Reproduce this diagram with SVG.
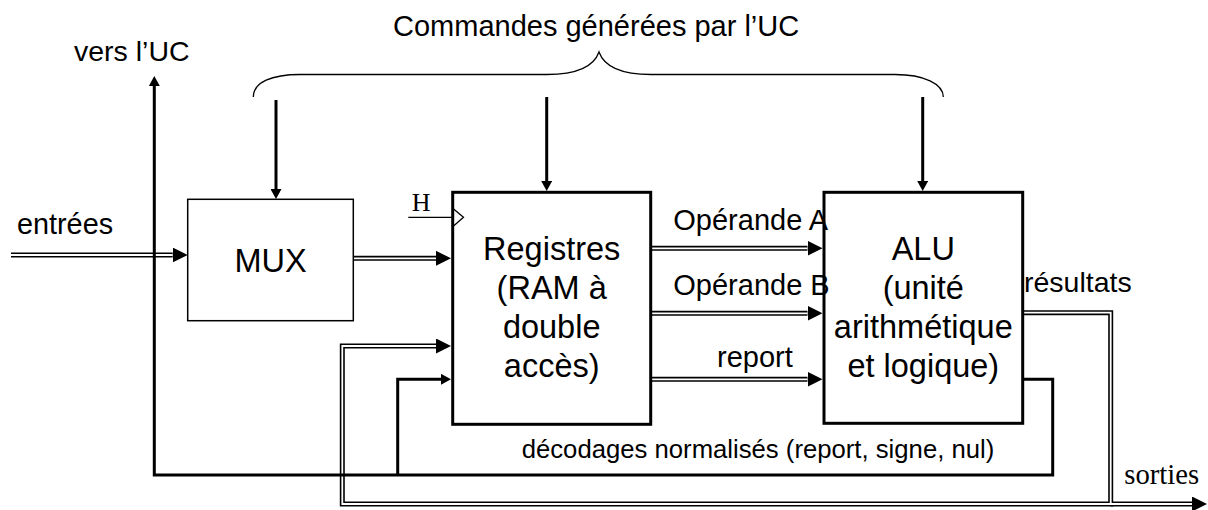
<svg xmlns="http://www.w3.org/2000/svg" width="1208" height="510" viewBox="0 0 1208 510">
<style>
.bg{fill:#fff}
.dblo{fill:none;stroke:#000;stroke-width:5;stroke-linejoin:miter}
.dbli{fill:none;stroke:#fff;stroke-width:1.8;stroke-linejoin:miter}
.thk{fill:none;stroke:#000;stroke-width:3;stroke-linejoin:miter}
.thin{fill:none;stroke:#000;stroke-width:1.3}
.box{fill:#fff;stroke:#000;stroke-width:3}
.mux{fill:#fff;stroke:#000;stroke-width:1.5}
.t{font-family:"Liberation Sans",Arial,sans-serif;fill:#000}
.s{font-family:"Liberation Serif","Times New Roman",serif;fill:#000}
.blk{font-family:"Liberation Sans",Arial,sans-serif;font-size:32.5px;text-anchor:middle;fill:#000}
</style>
<defs>
<marker id="ad" markerUnits="userSpaceOnUse" markerWidth="15" markerHeight="15" refX="0" refY="7.5" orient="auto"><path d="M0,0 L15,7.5 L0,15 z" fill="#000"/></marker>
<marker id="at" markerUnits="userSpaceOnUse" markerWidth="11" markerHeight="11" refX="0" refY="5.5" orient="auto"><path d="M0,0 L10,5.5 L0,11 z" fill="#000"/></marker>
</defs>
<rect class="bg" x="0" y="0" width="1208" height="510"/>
<g id="connectors">
<g id="double-outer">
<path class="dblo" d="M11,255 H172.7" marker-end="url(#ad)"/>
<path class="dblo" d="M353.3,258.3 H436" marker-end="url(#ad)"/>
<path class="dblo" d="M650.7,248.3 H807.5" marker-end="url(#ad)"/>
<path class="dblo" d="M650.7,313.3 H807.5" marker-end="url(#ad)"/>
<path class="dblo" d="M650.7,379.3 H807.5" marker-end="url(#ad)"/>
<path class="dblo" d="M1022.7,312.7 H1110.7 V504 H342.3 V346 H436" marker-end="url(#ad)"/>
<path class="dblo" d="M1110.7,504 H1192" marker-end="url(#ad)"/>
</g>
<g id="double-inner">
<path class="dbli" d="M11,255 H172.7"/>
<path class="dbli" d="M353.3,258.3 H436"/>
<path class="dbli" d="M650.7,248.3 H807.5"/>
<path class="dbli" d="M650.7,313.3 H807.5"/>
<path class="dbli" d="M650.7,379.3 H807.5"/>
<path class="dbli" d="M1022.7,312.7 H1110.7 V504 H342.3 V346 H436"/>
<path class="dbli" d="M1110.7,504 H1192"/>
</g>
<g id="single">
<path class="thk" d="M276,100 V189" marker-end="url(#at)"/>
<path class="thk" d="M546.7,97 V181" marker-end="url(#at)"/>
<path class="thk" d="M922.7,97 V181" marker-end="url(#at)"/>
<path class="thk" d="M1022.7,379.3 H1052.7 V475 H154.3 V86" marker-end="url(#at)"/>
<path class="thk" d="M397.7,475 V379.3 H441" marker-end="url(#at)"/>
<path class="thin" d="M408.3,217.3 H452.7"/>
<path class="thin" d="M253.3,97 C253.3,82 272,74.5 300,74.5 L547,74.5 C577,74.5 594,66 599,52 C604,66 621,74.5 651,74.5 L895,74.5 C924,74.5 943.3,84 943.3,97"/>
</g>
</g>
<g id="mux">
<rect class="mux" x="187.7" y="199.3" width="165.6" height="121.4"/>
<text class="blk" x="270.5" y="271.7" font-size="32">MUX</text>
</g>
<g id="registres">
<rect class="box" x="452.7" y="192.3" width="198" height="232"/>
<polyline class="thin" points="452.7,208.3 463.5,217.3 452.7,226.7"/>
<text class="blk" x="551.7" y="260">Registres</text>
<text class="blk" x="551.7" y="299">(RAM à</text>
<text class="blk" x="551.7" y="338">double</text>
<text class="blk" x="551.7" y="377">accès)</text>
</g>
<g id="alu">
<rect class="box" x="824" y="192.3" width="198.7" height="231"/>
<text class="blk" x="923.3" y="260">ALU</text>
<text class="blk" x="923.3" y="299">(unité</text>
<text class="blk" x="923.3" y="338">arithmétique</text>
<text class="blk" x="923.3" y="377">et logique)</text>
</g>
<g id="labels">
<text class="t" x="393" y="36" font-size="29">Commandes générées par l’UC</text>
<text class="t" x="74" y="61" font-size="28.5">vers l’UC</text>
<text class="t" x="17" y="234" font-size="28.8">entrées</text>
<text class="s" x="411.7" y="210.7" font-size="26">H</text>
<text class="t" x="673.3" y="230" font-size="29">Opérande A</text>
<text class="t" x="673.3" y="295" font-size="29">Opérande B</text>
<text class="t" x="717" y="366.7" font-size="29">report</text>
<text class="t" x="1024" y="291.7" font-size="28.5">résultats</text>
<text class="t" x="521.7" y="458.3" font-size="25.7">décodages normalisés (report, signe, nul)</text>
<text class="s" x="1124.3" y="484.3" font-size="28.7">sorties</text>
</g>
</svg>
